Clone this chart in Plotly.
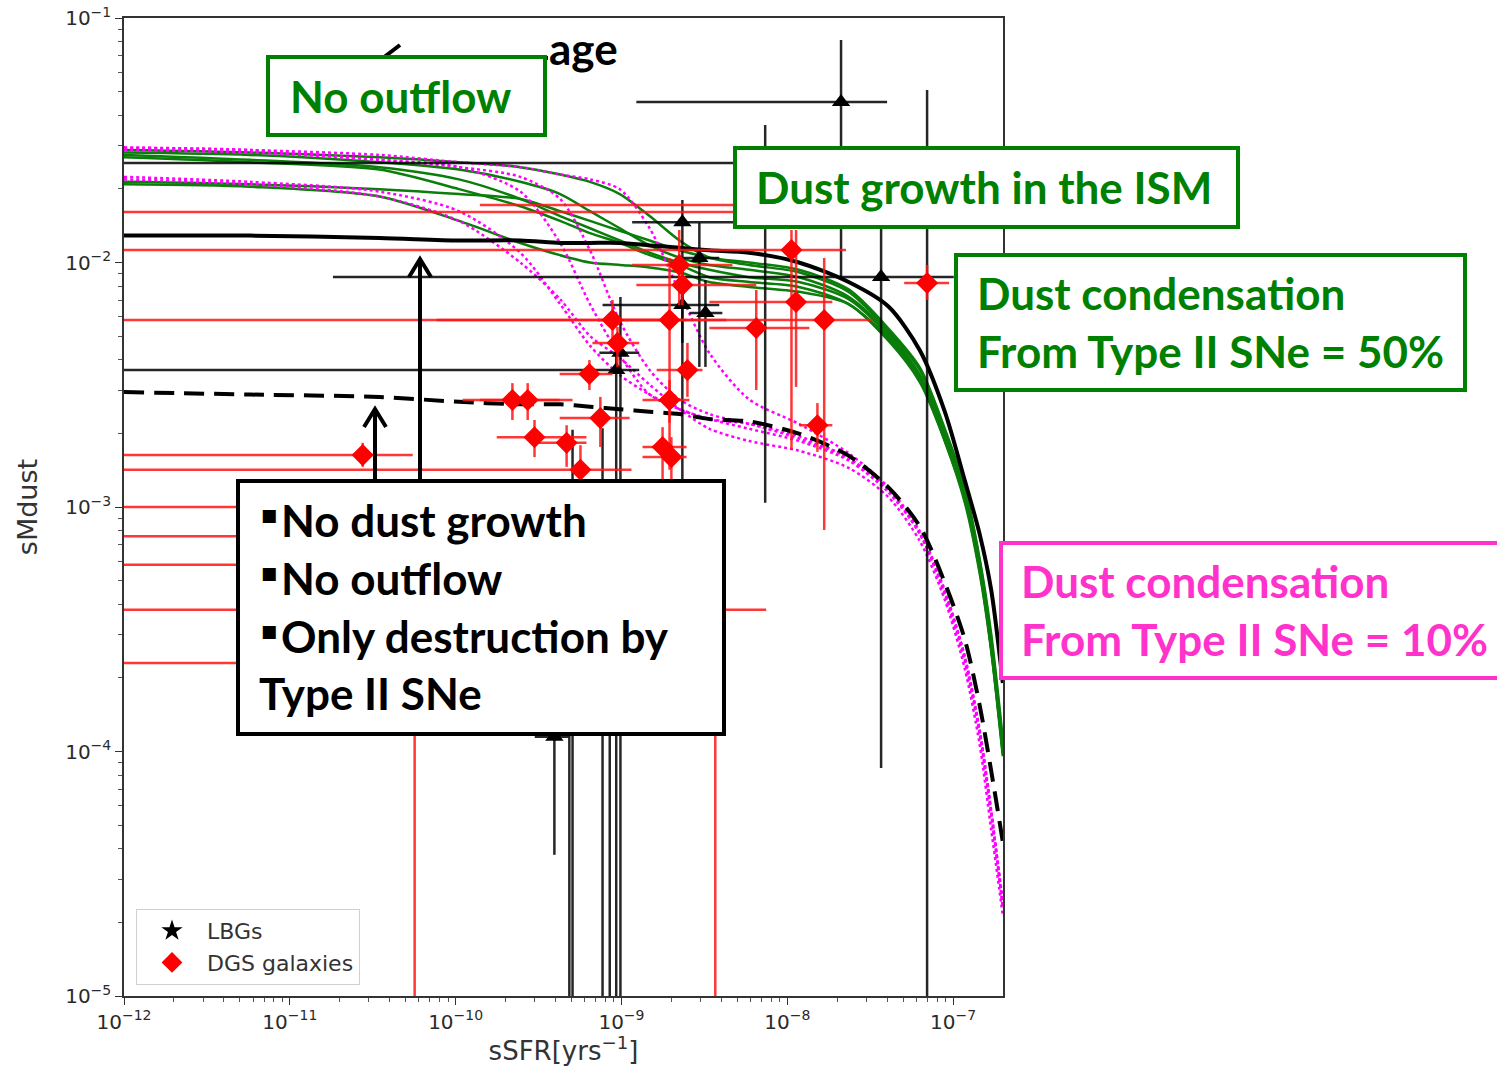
import numpy as np
import plotly.graph_objects as go

# ------------------------------------------------------------------
# Model tracks: log10(sMdust) sampled on a common log10(sSFR) grid
# ------------------------------------------------------------------
track_lssfr = [-12.00, -11.24, -10.46, -9.98, -9.61, -9.37, -9.19, -9.01, -8.83, -8.65,
               -8.47, -8.23, -7.93, -7.63, -7.39, -7.20, -7.05, -6.93, -6.84, -6.77, -6.70]

# reference model with dust growth (solid) and without growth / outflow (dashed)
solid_lsmd = [-1.89, -1.89, -1.90, -1.91, -1.91, -1.92, -1.92, -1.92, -1.93, -1.94,
              -1.95, -1.96, -2.00, -2.08, -2.18, -2.36, -2.61, -2.89, -3.11, -3.34, -3.72]
dashed_lsmd = [-2.53, -2.54, -2.55, -2.57, -2.58, -2.58, -2.59, -2.60, -2.61, -2.62,
               -2.64, -2.65, -2.70, -2.79, -2.92, -3.08, -3.31, -3.54, -3.81, -4.08, -4.37]

# condensation efficiency 50 % (green family)
green_lsmd = [
    [-1.54, -1.55, -1.57, -1.59, -1.61, -1.64, -1.67, -1.72, -1.81, -1.91,
     -1.98, -2.01, -2.04, -2.12, -2.28, -2.44, -2.69, -2.93, -3.22, -3.54, -3.97],
    [-1.55, -1.56, -1.59, -1.62, -1.67, -1.72, -1.79, -1.86, -1.93, -1.98,
     -2.01, -2.03, -2.06, -2.14, -2.29, -2.46, -2.71, -2.95, -3.24, -3.56, -3.99],
    [-1.56, -1.58, -1.61, -1.66, -1.74, -1.81, -1.86, -1.91, -1.96, -2.00,
     -2.03, -2.06, -2.08, -2.15, -2.30, -2.47, -2.72, -2.96, -3.25, -3.58, -4.00],
    [-1.57, -1.59, -1.62, -1.70, -1.77, -1.83, -1.88, -1.92, -1.97, -2.01,
     -2.06, -2.08, -2.10, -2.17, -2.31, -2.48, -2.73, -2.97, -3.26, -3.58, -4.01],
    [-1.67, -1.68, -1.70, -1.72, -1.74, -1.79, -1.83, -1.87, -1.91, -1.95,
     -1.98, -2.00, -2.03, -2.11, -2.27, -2.43, -2.68, -2.92, -3.21, -3.52, -3.95],
    [-1.68, -1.69, -1.73, -1.83, -1.92, -1.97, -2.00, -2.01, -2.02, -2.04,
     -2.08, -2.10, -2.12, -2.17, -2.32, -2.49, -2.73, -2.98, -3.27, -3.59, -4.02],
]

# condensation efficiency 10 % (magenta family)
magenta_lsmd = [
    [-1.53, -1.54, -1.56, -1.59, -1.61, -1.64, -1.66, -1.70, -1.86, -2.12,
     -2.37, -2.56, -2.66, -2.78, -2.92, -3.10, -3.34, -3.61, -3.91, -4.24, -4.64],
    [-1.53, -1.54, -1.58, -1.61, -1.65, -1.74, -1.95, -2.24, -2.44, -2.56,
     -2.62, -2.66, -2.72, -2.80, -2.93, -3.11, -3.35, -3.61, -3.92, -4.25, -4.63],
    [-1.54, -1.55, -1.58, -1.61, -1.71, -1.92, -2.17, -2.38, -2.54, -2.60,
     -2.64, -2.68, -2.73, -2.81, -2.94, -3.11, -3.36, -3.63, -3.93, -4.26, -4.63],
    [-1.65, -1.67, -1.71, -1.79, -1.96, -2.17, -2.34, -2.46, -2.54, -2.60,
     -2.64, -2.66, -2.71, -2.80, -2.93, -3.11, -3.35, -3.62, -3.92, -4.25, -4.61],
    [-1.66, -1.68, -1.73, -1.83, -2.00, -2.15, -2.30, -2.39, -2.50, -2.60,
     -2.68, -2.73, -2.77, -2.84, -2.96, -3.14, -3.38, -3.66, -3.97, -4.32, -4.67],
]

# ------------------------------------------------------------------
# Observed samples (a lower bound of 0 means the bar runs off the axis)
# ------------------------------------------------------------------
lbg_ssfr = [2.11e-8, 2.33e-9, 2.95e-9, 2.33e-9, 3.21e-9, 9.86e-10, 9.3e-10, 3.68e-8,
            7.36e-9, 3.94e-10, 5.07e-10, 4.85e-10, 7.69e-10, 8.5e-10, 6.97e-8]
lbg_ssfr_lo = [1.23e-9, 1.16e-9, 2.14e-9, 7.69e-10, 2.57e-9, 7.36e-10, 0, 1.82e-11,
               0, 3.0e-10, 4.24e-10, 4.24e-10, 6.15e-10, 7.0e-10, 5.5e-8]
lbg_ssfr_hi = [4.0e-8, 4.8e-9, 3.89e-9, 3.89e-9, 4.06e-9, 1.28e-9, 1.28e-9, 1.01e-7,
               1.03e-8, 4.8e-10, 6.15e-10, 6.0e-10, 9.0e-10, 1.0e-9, 9.0e-8]
lbg_smd = [0.0453, 0.0146, 0.01043, 0.0067, 0.00621, 0.00427, 0.00363, 0.00873,
           0.0255, 0.000115, 0.00058, 0.0005, 0.0007, 0.0006, 0.0198]
lbg_smd_lo = [0.0085, 0.000503, 0.00374, 0.00469, 0.00374, 0, 0, 8.57e-5,
              0.00104, 3.78e-5, 0, 0, 0, 0, 0]
lbg_smd_hi = [0.0813, 0.018, 0.01452, 0.00809, 0.00847, 0.00723, 0.0046, 0.018,
              0.0365, 0.000417, 0.00207, 0.0007, 0.0021, 0.0009, 0.0508]

dgs_ssfr = [1.06e-8, 1.13e-8, 1.67e-8, 6.5e-9, 1.52e-8, 2.23e-9, 2.33e-9, 8.83e-10,
            1.95e-9, 9.46e-10, 2.5e-9, 1.95e-9, 6.41e-10, 7.46e-10, 2.2e-10, 2.72e-10,
            2.99e-10, 4.67e-10, 5.66e-10, 2.75e-11, 1.77e-9, 2.0e-9, 6.97e-8, 1.03e-8,
            1.1e-8, 3.68e-9, 5.66e-11, 1.52e-11, 2.3e-11, 3.48e-11]
dgs_ssfr_lo = [0, 3.39e-9, 0, 3.39e-9, 1.18e-8, 1.16e-9, 1.23e-9, 7.69e-11,
               7.36e-10, 6.68e-10, 1.63e-9, 1.34e-9, 4.24e-10, 4.24e-10, 1.1e-10, 1.4e-10,
               1.77e-10, 3.08e-10, 0, 0, 1.34e-9, 1.34e-9, 5.07e-8, 0,
               1.4e-10, 0, 0, 0, 0, 0]
dgs_ssfr_hi = [2.26e-8, 1.87e-8, 3.25e-8, 1.36e-8, 1.87e-8, 4.67e-9, 6.5e-9, 2.47e-9,
               4.3e-9, 1.28e-9, 3.08e-9, 2.57e-9, 8.83e-10, 1.12e-9, 4.24e-10, 5.07e-10,
               6.15e-10, 6.15e-10, 1.15e-9, 5.51e-11, 2.47e-9, 2.47e-9, 9.46e-8, 2.26e-8,
               2.26e-8, 7.46e-9, 1.4e-10, 3.48e-11, 4.6e-11, 1.1e-10]
dgs_smd = [0.01125, 0.00689, 0.00582, 0.0054, 0.00216, 0.00977, 0.00809, 0.00582,
           0.00582, 0.00469, 0.00363, 0.00274, 0.0035, 0.00231, 0.00274, 0.00274,
           0.00193, 0.00183, 0.00142, 0.00163, 0.00176, 0.0016, 0.00824, 0.0161,
           0.0172, 0.00038, 0.00023, 0.001, 0.00076, 0.00058]
dgs_smd_lo = [0.00171, 0.0031, 0.000805, 0.00301, 0.00168, 0.0067, 0.0067, 0.0046,
              0.00142, 0.00374, 0.00282, 0.00221, 0.00301, 0.00176, 0.00227, 0.00227,
              0.0016, 0.00146, 0.00129, 0.00146, 0.00129, 0.00129, 0.00703, 0.0145,
              0.0161, 0, 0, 0.000885, 0.0007, 0.000503]
dgs_smd_hi = [0.01358, 0.01358, 0.01043, 0.00772, 0.00266, 0.01358, 0.00977, 0.00703,
              0.01043, 0.00545, 0.00469, 0.00331, 0.00399, 0.00282, 0.00321, 0.00321,
              0.00227, 0.00216, 0.00179, 0.00183, 0.00212, 0.00193, 0.00977, 0.018,
              0.018, 0.000417, 0.000345, 0.00112, 0.000805, 0.000667]

# axis decades and their labels
x_decades = [1e-12, 1e-11, 1e-10, 1e-9, 1e-8, 1e-7]
x_labels = ['10<sup>−12</sup>', '10<sup>−11</sup>', '10<sup>−10</sup>',
            '10<sup>−9</sup>', '10<sup>−8</sup>', '10<sup>−7</sup>']
y_decades = [1e-5, 1e-4, 1e-3, 1e-2, 1e-1]
y_labels = ['10<sup>−5</sup>', '10<sup>−4</sup>', '10<sup>−3</sup>',
            '10<sup>−2</sup>', '10<sup>−1</sup>']

# ------------------------------------------------------------------
# Page geometry (pixels) and helpers for paper-referenced decorations
# ------------------------------------------------------------------
W, H = 1497, 1066
PL, PR, PT, PB = 124, 1003, 18, 996


def fx(x):
    return (x - PL) / (PR - PL)


def fy(y):
    return (PB - y) / (PB - PT)


def err(v, lo, hi, color, thickness):
    v, lo, hi = (np.asarray(a, dtype=float) for a in (v, lo, hi))
    return dict(type='data', symmetric=False, array=hi - v, arrayminus=v - lo,
                color=color, thickness=thickness, width=0)


fig = go.Figure()
x_track = np.power(10.0, track_lssfr)

for ys in green_lsmd:
    fig.add_trace(go.Scatter(x=x_track, y=np.power(10.0, ys), mode='lines',
                             line=dict(color='#0a7d0a', width=2.5, shape='spline', smoothing=0.8),
                             showlegend=False, hoverinfo='skip'))
for ys in magenta_lsmd:
    fig.add_trace(go.Scatter(x=x_track, y=np.power(10.0, ys), mode='lines',
                             line=dict(color='#ff00ff', width=2.5, dash='dot', shape='spline', smoothing=0.8),
                             showlegend=False, hoverinfo='skip'))
fig.add_trace(go.Scatter(x=x_track, y=np.power(10.0, solid_lsmd), mode='lines',
                         line=dict(color='black', width=4, shape='spline', smoothing=0.8),
                         showlegend=False, hoverinfo='skip'))
fig.add_trace(go.Scatter(x=x_track, y=np.power(10.0, dashed_lsmd), mode='lines',
                         line=dict(color='black', width=4, dash='20px,10px', shape='spline', smoothing=0.8),
                         showlegend=False, hoverinfo='skip'))

# LBGs
fig.add_trace(go.Scatter(
    x=lbg_ssfr, y=lbg_smd, mode='markers', showlegend=False,
    marker=dict(symbol='triangle-up', size=16, color='black'),
    error_x=err(lbg_ssfr, lbg_ssfr_lo, lbg_ssfr_hi, 'rgba(0,0,0,0.85)', 2.5),
    error_y=err(lbg_smd, lbg_smd_lo, lbg_smd_hi, 'rgba(0,0,0,0.85)', 2.5)))

# DGS galaxies
fig.add_trace(go.Scatter(
    x=dgs_ssfr, y=dgs_smd, mode='markers', showlegend=False,
    marker=dict(symbol='diamond', size=17, color='#ff0000'),
    error_x=err(dgs_ssfr, dgs_ssfr_lo, dgs_ssfr_hi, 'rgba(255,20,20,0.85)', 2.5),
    error_y=err(dgs_smd, dgs_smd_lo, dgs_smd_hi, 'rgba(255,20,20,0.85)', 2.5)))

# legend entries
fig.add_trace(go.Scatter(x=[None], y=[None], mode='markers', name='LBGs',
                         marker=dict(symbol='star', size=20, color='black')))
fig.add_trace(go.Scatter(x=[None], y=[None], mode='markers', name='DGS galaxies',
                         marker=dict(symbol='diamond', size=18, color='#ff0000')))

# ------------------------------------------------------------------
# Annotation boxes, arrows and text
# ------------------------------------------------------------------
GREEN = '#008000'
PINK = '#ff33cc'


def rect(x0, y0, x1, y1, color):
    return dict(type='rect', xref='paper', yref='paper', layer='above',
                x0=fx(x0), x1=fx(x1), y0=fy(y1), y1=fy(y0),
                line=dict(color=color, width=4), fillcolor='white')


def poly(points, width=4):
    d = 'M ' + ' L '.join(f'{fx(a):.5f},{fy(b):.5f}' for a, b in points)
    return dict(type='path', xref='paper', yref='paper', layer='above', path=d,
                line=dict(color='black', width=width))


shapes = [
    # "age" arrow (mostly hidden behind the No-outflow box)
    poly([(548, 58), (383, 58)]),
    poly([(400, 45), (383, 58), (400, 71)]),
    rect(268, 57, 545, 135, GREEN),
    rect(735, 148, 1238, 227, GREEN),
    rect(956, 255, 1465, 390, GREEN),
    rect(1001, 543, 1520, 678, PINK),
    # arrows pointing at the reference tracks
    poly([(420, 481), (420, 260)]),
    poly([(409, 277), (420, 259), (431, 277)]),
    poly([(375, 481), (375, 411)]),
    poly([(364, 427), (375, 409), (386, 427)]),
    rect(238, 481, 724, 734, 'black'),
]


def label(x, y, text, color, size=44):
    return dict(xref='paper', yref='paper', x=fx(x), y=fy(y), xanchor='left', yanchor='middle',
                text=text, showarrow=False,
                font=dict(family='Lato', size=size, color=color, weight='bold'))


annotations = [
    label(547, 48, 'age', 'black'),
    label(288, 96, 'No outflow', GREEN),
    label(754, 187, 'Dust growth in the ISM', GREEN),
    label(975, 293, 'Dust condensation', GREEN),
    label(975, 351, 'From Type II SNe = 50%', GREEN),
    label(1019, 581, 'Dust condensation', PINK),
    label(1019, 639, 'From Type II SNe = 10%', PINK),
    label(279, 520, 'No dust growth', 'black'),
    label(279, 578, 'No outflow', 'black'),
    label(279, 636, 'Only destruction by', 'black'),
    label(257, 693, 'Type II SNe', 'black'),
]
for yb in (515, 573, 631):
    annotations.append(dict(xref='paper', yref='paper', x=fx(259), y=fy(yb), xanchor='left',
                            yanchor='middle', text='■', showarrow=False,
                            font=dict(family='DejaVu Sans', size=17, color='black')))

minor_x = [m * 10.0 ** e for e in range(-12, -6) for m in range(2, 10) if m * 10.0 ** e < 2e-7]
minor_y = [m * 10.0 ** e for e in range(-5, -1) for m in range(2, 10)]

axis_common = dict(
    type='log', ticks='outside', ticklen=7, tickwidth=1.3, tickcolor='#333',
    showline=True, linecolor='#333', linewidth=1.5, mirror=True,
    showgrid=False, zeroline=False, automargin=False,
    tickfont=dict(family='DejaVu Sans', size=20, color='#2a2a2a'),
)

fig.update_layout(
    width=W, height=H,
    margin=dict(l=PL, r=W - PR, t=PT, b=H - PB),
    paper_bgcolor='white', plot_bgcolor='white',
    xaxis=dict(axis_common, range=[-12, np.log10(2e-7)],
               tickmode='array', tickvals=x_decades, ticktext=x_labels,
               minor=dict(tickvals=minor_x, ticks='outside', ticklen=4, tickwidth=1, tickcolor='#555'),
               title=dict(text='sSFR[yrs<sup>−1</sup>]', standoff=6,
                          font=dict(family='DejaVu Sans', size=26, color='#333'))),
    yaxis=dict(axis_common, range=[-5, -1],
               tickmode='array', tickvals=y_decades, ticktext=y_labels,
               minor=dict(tickvals=minor_y, ticks='outside', ticklen=4, tickwidth=1, tickcolor='#555'),
               title=dict(text='sMdust', standoff=20,
                          font=dict(family='DejaVu Sans', size=27, color='#333'))),
    legend=dict(x=fx(136), y=fy(985), xanchor='left', yanchor='bottom',
                bgcolor='white', bordercolor='#d0d0d0', borderwidth=1,
                font=dict(family='DejaVu Sans', size=22, color='#333'),
                itemwidth=60, tracegroupgap=2),
    shapes=shapes,
    annotations=annotations,
)

fig.write_html('out.html')
